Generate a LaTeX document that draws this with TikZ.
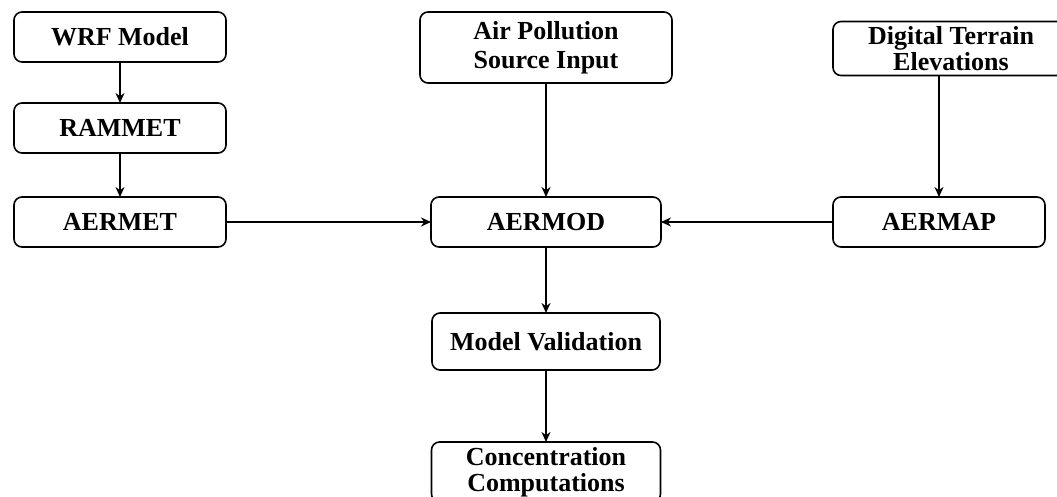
\documentclass[tikz,border=0pt]{standalone}
\usepackage{fontspec}
\setmainfont{Liberation Serif}
\usetikzlibrary{positioning,arrows.meta}
\tikzset{
  box/.style={draw,line width=0.8pt,rounded corners=4pt,align=center,font=\bfseries\fontsize{13}{14.5}\selectfont,inner sep=0pt,outer sep=0pt,minimum width=106pt,minimum height=25pt},
  arr/.style={-{Stealth[length=5pt,width=4.5pt]},line width=1pt}
}

\begin{document}
\begin{tikzpicture}[x=0.5pt,y=-0.5pt]
  \useasboundingbox (0,0) rectangle (1057,497);
  \node[box] (wrf) at (120,37) {WRF Model};
  \node[box,below=20.5pt of wrf] (rammet) {RAMMET};
  \node[box,below=22pt of rammet] (aermet) {AERMET};
  \node[box,minimum width=126pt,minimum height=35.5pt] (src) at (546,47.5) {Air Pollution\\Source Input};
  \node[box,minimum width=115pt] (aermod) at (546,222) {AERMOD};
  \node[box,minimum width=118pt,minimum height=27pt,font=\bfseries\fontsize{13}{13}\selectfont] (dem) at (951,48.5) {Digital Terrain\\Elevations};
  \node[box] (aermap) at (939,222) {AERMAP};
  \node[box,minimum width=114pt,minimum height=28.5pt] (valid) at (546,341.5) {Model Validation};
  \node[box,minimum width=114.5pt,minimum height=30pt,font=\bfseries\fontsize{13}{13}\selectfont] (conc) at (546,472) {Concentration\\Computations};
  \draw[arr] (wrf) -- (rammet);
  \draw[arr] (rammet) -- (aermet);
  \draw[arr] (aermet) -- (aermod);
  \draw[arr] (src) -- (aermod);
  \draw[arr] (aermap) -- (aermod);
  \draw[arr] (dem.south -| aermap.north) -- (aermap);
  \draw[arr] (aermod) -- (valid);
  \draw[arr] (valid) -- (conc);
\end{tikzpicture}
\end{document}
